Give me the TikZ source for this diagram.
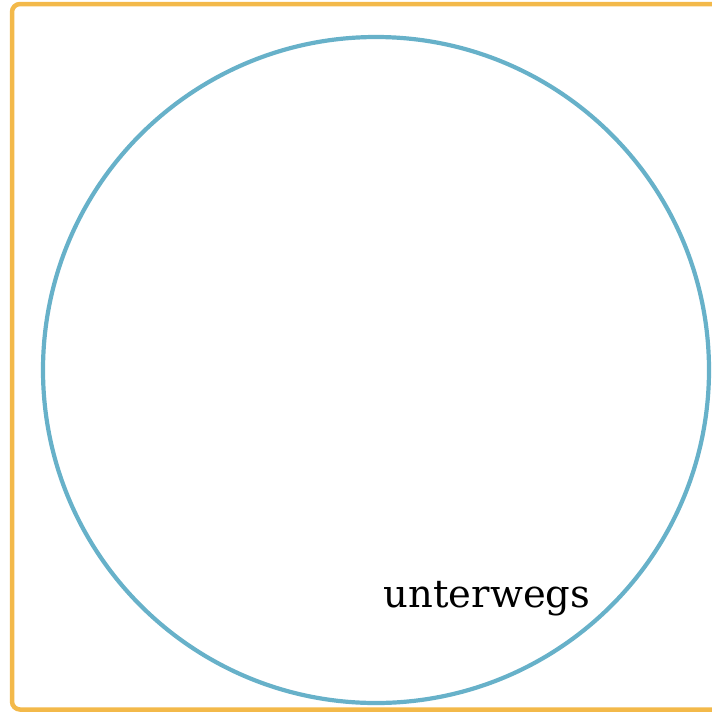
\documentclass[tikz,border=0pt]{standalone}
\usepackage{fontspec}
\setmainfont{DejaVu Serif}
\definecolor{frameor}{HTML}{F3B94A}
\definecolor{ringblue}{HTML}{67B1C9}
\begin{document}
\begin{tikzpicture}[x=1pt,y=-1pt,
  frame/.style={draw=frameor,line width=4.5pt,rounded corners=8pt},
  ring/.style={draw=ringblue,line width=4.2pt,circle,minimum size=666pt,inner sep=0pt},
  lbl/.style={font=\fontsize{38.5}{44}\selectfont,text=black,inner sep=0pt}]
\useasboundingbox (0,0) rectangle (712,713);
\draw[frame] (12,4) rectangle (722,709.5);
\node[ring] (circ) at (376,370) {};
\node[lbl] (t) at (487,599) {unterwegs};
\end{tikzpicture}
\end{document}
